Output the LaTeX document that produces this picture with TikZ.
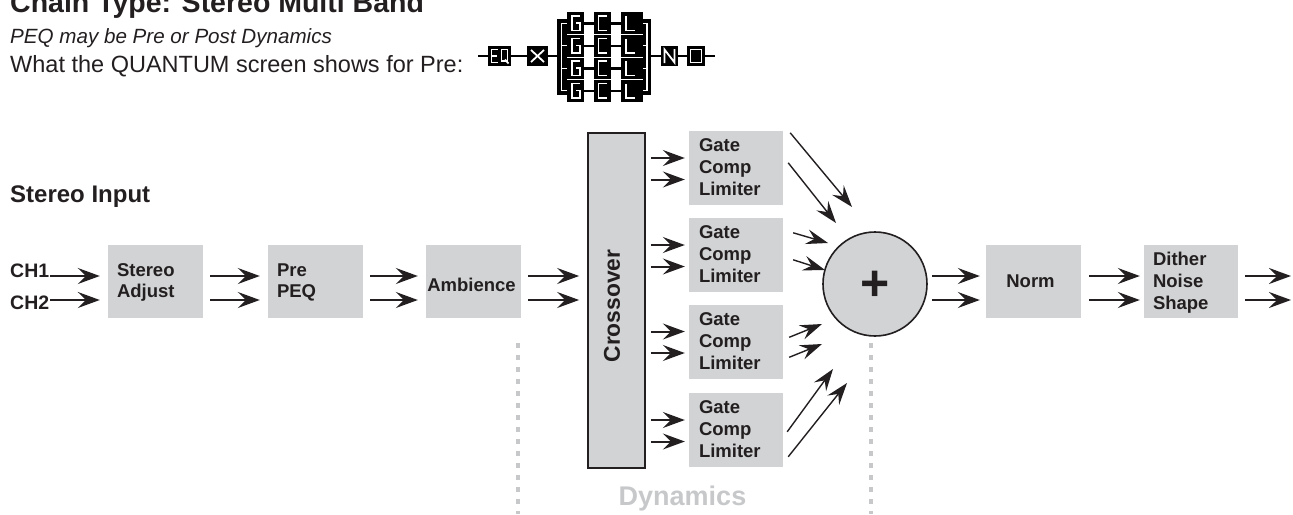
\documentclass[tikz,border=0pt]{standalone}
\usepackage{fontspec}
\setmainfont{Liberation Sans}
\usetikzlibrary{arrows.meta,calc}
\definecolor{boxgray}{HTML}{D1D3D4}
\definecolor{ink}{HTML}{231F20}
\definecolor{dyngray}{HTML}{C7C8CA}
\newcommand\fsz[2]{\fontsize{#1}{#2}\selectfont}
\begin{document}
\begin{tikzpicture}[x=1pt,y=-1pt,
  box/.style={fill=boxgray, draw=none, minimum width=95pt, minimum height=73pt, inner sep=0pt},
  lbl/.style={font=\fsz{18.5}{22}\bfseries, text=ink, inner sep=0pt, anchor=base west},
  txt/.style={text=ink, inner sep=0pt, anchor=base west},
  arr/.style={draw=ink, line width=2pt, -{Stealth[length=22pt,width=16pt,inset=8pt]}},
  arrd/.style={draw=ink, line width=1.4pt, -{Stealth[length=22pt,width=15pt,inset=8pt]}},
  dots/.style={draw=dyngray, line width=4pt, dash pattern=on 4.5pt off 7.5pt},
  pxl/.style={draw=white, line width=1.8pt},
]
\useasboundingbox (0,0) rectangle (1293,514);

% ---------- header texts ----------
\node[txt, font=\fsz{28.5}{30}\bfseries] (title) at (10,12.5) {Chain Type: Stereo Multi Band};
\node[txt, font=\fsz{20.6}{24}\itshape] (peq) at (10,43) {PEQ may be Pre or Post Dynamics};
\node[txt, font=\fsz{23.5}{26}] (what) at (10,72) {What the QUANTUM screen shows for Pre:};

% ---------- QUANTUM screen icon ----------
\draw[black, line width=2.5pt] (478,56) -- (558,56);
\draw[black, line width=2.5pt] (651,56) -- (715,56);
% EQ
\fill[black] (488,46) rectangle (511,66);
\draw[pxl] (497.5,49.5) -- (491.5,49.5) -- (491.5,62.5) -- (497.5,62.5) (491.5,56) -- (496.5,56);
\draw[pxl] (501.5,49.5) rectangle (507.5,61);
\draw[pxl] (505,59.5) -- (508.5,63.5);
% X
\fill[black] (527,46) rectangle (548,66);
\draw[pxl] (531,50) -- (544,62) (544,50) -- (531,62);
% N
\fill[black] (661,46) rectangle (678,66);
\draw[pxl] (664.5,63) -- (664.5,49.5) -- (674.5,62.5) -- (674.5,49);
% O
\fill[black] (687,46) rectangle (705,66);
\draw[pxl] (690.5,49.5) rectangle (701.5,62.5);
% parallel block
\fill[black] (557,19) rectangle (568,95);
\fill[black] (567,12) rectangle (584,102);
\fill[black] (594,12) rectangle (611,102);
\fill[black] (621,12) rectangle (643,102);
\fill[black] (643,19) rectangle (651,95);
\draw[pxl, line width=1.2pt] (561.5,23.25) -- (561.5,90.75);
\draw[pxl, line width=1.2pt] (647,23.25) -- (647,90.75);
\foreach \s in {34.5,57,79.5}{
  \draw[white, line width=1pt] (567,\s) -- (584,\s) (594,\s) -- (611,\s) (621,\s) -- (643,\s);
}
\foreach \t in {12,34.5,57,79.5}{
  \pgfmathsetmacro\c{\t+11.25}
  \draw[black, line width=2.5pt] (584,\c) -- (594,\c) (611,\c) -- (621,\c);
  \draw[pxl, line width=1.2pt] (561.5,\c) -- (567,\c) (643,\c) -- (647,\c);
  \draw[pxl] (580,\t+4) -- (572,\t+4) -- (572,\t+18.5) -- (580,\t+18.5) -- (580,\t+11) -- (576,\t+11);
  \draw[pxl] (607,\t+4) -- (598.5,\t+4) -- (598.5,\t+18.5) -- (607,\t+18.5);
  \draw[pxl] (626,\t+4) -- (626,\t+18.5) -- (635,\t+18.5);
}

% ---------- main chain ----------
\node[txt, font=\fsz{24}{26}\bfseries] (sin) at (10,202) {Stereo Input};
\node[txt, font=\fsz{19.5}{20}\bfseries] (ch1) at (10,277) {CH1};
\node[txt, font=\fsz{19.5}{20}\bfseries] (ch2) at (10,309) {CH2};

\node[box] (sa) at (155.5,281.5) {};
\node[box] (pre) at (315.5,281.5) {};
\node[box] (amb) at (473.5,281.5) {};
\node[box, draw=ink, line width=1.8pt, minimum width=57pt, minimum height=335pt] (cross) at (616.5,300.5) {};
\node[box, minimum width=94pt, minimum height=74pt] (g1) at (736,168) {};
\node[box, minimum width=94pt, minimum height=74pt] (g2) at (736,255) {};
\node[box, minimum width=94pt, minimum height=74pt] (g3) at (736,341.5) {};
\node[box, minimum width=94pt, minimum height=74pt] (g4) at (736,430) {};
\node[circle, fill=boxgray, draw=ink, line width=1.6pt, minimum size=104pt, inner sep=0pt] (sum) at (875,284) {};
\node[font=\fsz{50}{50}\bfseries, text=ink, inner sep=0pt] (plus) at (875,286) {+};
\node[box] (norm) at (1033.5,281.5) {};
\node[box, minimum width=94pt] (dith) at (1191,281.5) {};

\node[lbl, font=\fsz{18.5}{21}\bfseries] (sat) at ($(sa.north west)+(9,32)$) {\vtop{\hbox{Stereo}\hbox{Adjust}}};
\node[lbl, font=\fsz{18.5}{21}\bfseries] (pret) at ($(pre.north west)+(9,32)$) {\vtop{\hbox{Pre}\hbox{PEQ}}};
\node[lbl, anchor=base] (ambt) at ($(amb.north)+(-2,47)$) {Ambience};
\node[lbl, anchor=base] (normt) at ($(norm.north)+(-3,43)$) {Norm};
\node[lbl] (dtt) at ($(dith.north west)+(9,21)$) {\vtop{\hbox{Dither}\hbox{Noise}\hbox{Shape}}};
\foreach \g in {g1,g2,g3,g4}{
  \node[lbl] (\g t) at ($(\g.north west)+(10,21)$) {\vtop{\hbox{Gate}\hbox{Comp}\hbox{Limiter}}};
}
\node[font=\fsz{22.8}{24}\bfseries, text=ink, rotate=90, inner sep=0pt] (crt) at (612,306) {Crossover};

% ---------- connectors ----------
\coordinate (rowA) at (0,276);
\coordinate (rowB) at (0,300);
\draw[arr, shorten <=1pt, shorten >=8pt] (ch1.east |- rowA) -- (sa.west |- rowA);
\draw[arr, shorten <=1pt, shorten >=8pt] (ch2.east |- rowB) -- (sa.west |- rowB);
\foreach \a/\b in {sa/pre,pre/amb,amb/cross}{
  \draw[arr, shorten <=7pt, shorten >=8pt] (\a.east |- rowA) -- (\b.west |- rowA);
  \draw[arr, shorten <=7pt, shorten >=8pt] (\a.east |- rowB) -- (\b.west |- rowB);
}
\foreach \g in {g1,g2,g3,g4}{
  \draw[arr, shorten <=5pt, shorten >=4pt] ($(cross.east |- \g.west)+(0,-10)$) -- ($(\g.west)+(0,-10)$);
  \draw[arr, shorten <=5pt, shorten >=4pt] ($(cross.east |- \g.west)+(0,11.5)$) -- ($(\g.west)+(0,11.5)$);
}
% gates to summing node
\draw[arrd] ($(g1.north east)+(7,2)$) -- ($(sum.center)+(-23,-77)$);
\draw[arrd] ($(g1.north east)+(5,32)$) -- ($(sum.center)+(-39,-61)$);
\draw[arrd] ($(g2.north east)+(10,15)$) -- ($(sum.center)+(-47,-41)$);
\draw[arrd] ($(g2.north east)+(10,42)$) -- ($(sum.center)+(-50,-14)$);
\draw[arrd] ($(g3.north east)+(6,33)$) -- ($(sum.center)+(-53,40)$);
\draw[arrd] ($(g3.north east)+(6,53)$) -- ($(sum.center)+(-53,60)$);
\draw[arrd] ($(g4.north east)+(4,39)$) -- ($(sum.center)+(-42,85)$);
\draw[arrd] ($(g4.north east)+(5,64)$) -- ($(sum.center)+(-28,99)$);

\draw[arr, shorten <=4pt, shorten >=6pt] (sum.east |- rowA) -- (norm.west |- rowA);
\draw[arr, shorten <=4pt, shorten >=6pt] (sum.east |- rowB) -- (norm.west |- rowB);
\draw[arr, shorten <=8pt, shorten >=4pt] (norm.east |- rowA) -- (dith.west |- rowA);
\draw[arr, shorten <=8pt, shorten >=4pt] (norm.east |- rowB) -- (dith.west |- rowB);
\coordinate (outA) at (1291,276);
\coordinate (outB) at (1291,300);
\draw[arr, shorten <=7pt] (dith.east |- rowA) -- (outA);
\draw[arr, shorten <=7pt] (dith.east |- rowB) -- (outB);

% ---------- Dynamics group ----------
\coordinate (dlt) at (518,343);
\coordinate (dlb) at (518,514);
\coordinate (drt) at (871,343);
\coordinate (drb) at (871,514);
\draw[dots] (dlt) -- (dlb);
\draw[dots] (drt) -- (drb);
\node[font=\fsz{27}{28}\bfseries, text=dyngray, inner sep=0pt, anchor=base] (dyn) at (682.5,505) {Dynamics};
\end{tikzpicture}
\end{document}
